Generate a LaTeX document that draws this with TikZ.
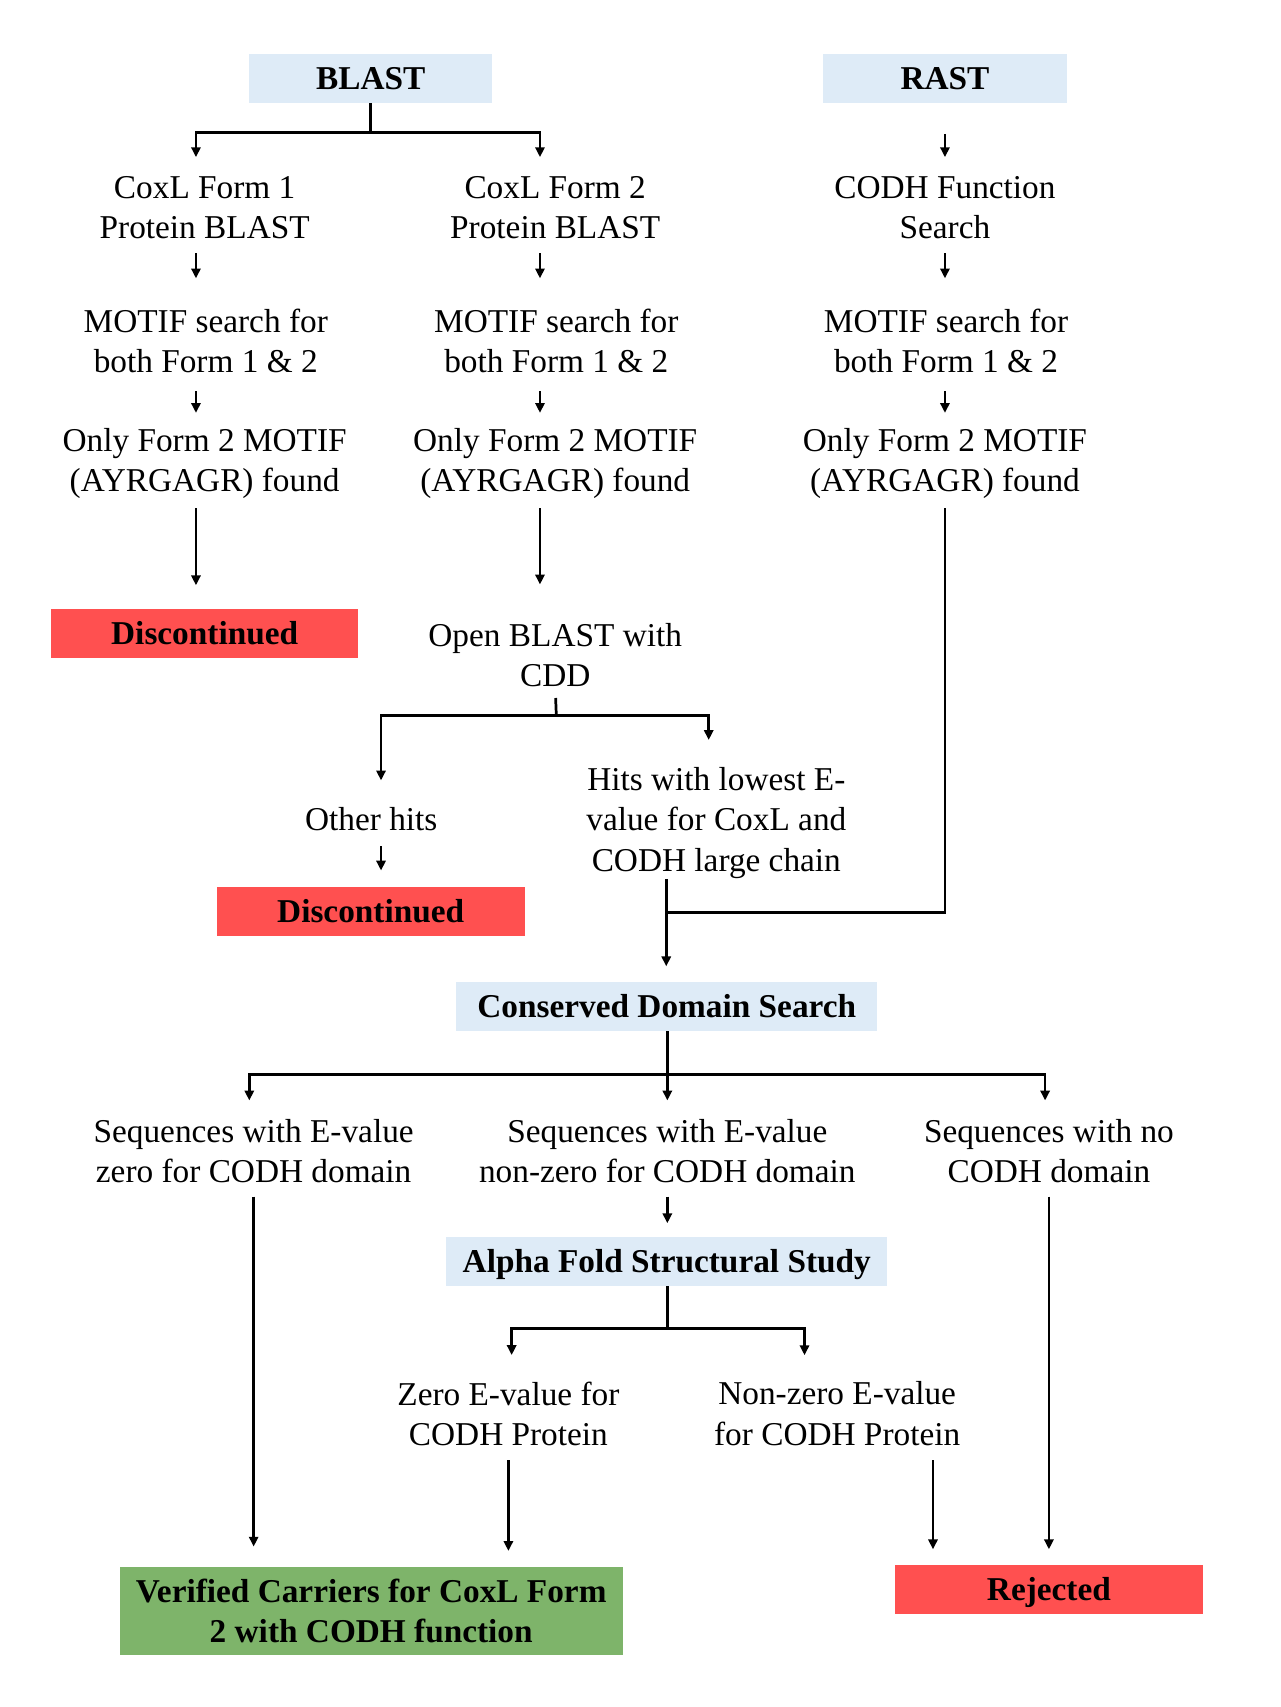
\documentclass[tikz,border=0pt]{standalone}
\usepackage{fontspec}
\setmainfont{Liberation Serif}
\usepackage{tikz}
\usetikzlibrary{arrows.meta}

\definecolor{hdrblue}{HTML}{DEEBF7}
\definecolor{stopred}{HTML}{FF5050}
\definecolor{okgreen}{HTML}{7EB46A}

\begin{document}
\begin{tikzpicture}[x=0.5pt,y=-0.5pt,
		txt/.style={inner sep=0pt,align=center,font=\fontsize{15.3}{18.5}\selectfont},
		box/.style={inner sep=0pt,align=center,minimum height=22.5pt,font=\fontsize{15.3}{18.5}\selectfont\bfseries},
		onebox/.style={box,text height=10.1pt,text depth=0pt},
		ln/.style={line width=1.25pt},
		arr/.style={line width=1.25pt,-{Triangle[length=4.5pt,width=4.2pt]}}]
		
		\useasboundingbox (0,0) rectangle (1176,1568);
		
		% arrow columns and branch points
		\coordinate (c1) at (180,0);
		\coordinate (c2) at (496,0);
		\coordinate (c3) at (868,0);
		\coordinate (c4) at (857,0);
		\coordinate (bj) at (340.5,122);
		\coordinate (oj) at (511,657);
		\coordinate (jn) at (612,838);
		\coordinate (cj) at (613,987);
		\coordinate (aj) at (613,1220);
		
		% top: BLAST and RAST
		\node[onebox,fill=hdrblue,minimum width=111.5pt] (blast) at (340.5,72) {BLAST};
		\node[onebox,fill=hdrblue,minimum width=112pt] (rast) at (868,72) {RAST};
		
		\node[txt] (p1) at (188,190.5) {CoxL Form 1\\Protein BLAST};
		\node[txt] (p2) at (510,190.5) {CoxL Form 2\\Protein BLAST};
		\node[txt] (r1) at (868,190.5) {CODH Function\\Search};
		
		\node[txt] (m1) at (189,313.5) {MOTIF search for\\both Form 1 \& 2};
		\node[txt] (m2) at (511,313.5) {MOTIF search for\\both Form 1 \& 2};
		\node[txt] (m3) at (869,313.5) {MOTIF search for\\both Form 1 \& 2};
		
		\node[txt] (f1) at (188,426) {Only Form 2 MOTIF\\(AYRGAGR) found};
		\node[txt] (f2) at (510,426) {Only Form 2 MOTIF\\(AYRGAGR) found};
		\node[txt] (f3) at (868,426) {Only Form 2 MOTIF\\(AYRGAGR) found};
		
		% middle: CDD hits
		\node[onebox,fill=stopred,minimum width=141pt] (d1) at (188,581.5) {Discontinued};
		\node[txt] (ob) at (510,601.5) {Open BLAST with\\CDD};
		\node[txt] (oh) at (341,752) {Other hits};
		\node[txt] (hl) at (658,756) {Hits with lowest E-\\value for CoxL and\\CODH large chain};
		\node[onebox,fill=stopred,minimum width=141.5pt] (d2) at (340.5,837.5) {Discontinued};
		
		% lower: domain search and structure
		\node[onebox,fill=hdrblue,minimum width=193.5pt] (cds) at (612.5,924.5) {Conserved Domain Search};
		\node[txt] (s1) at (233,1057.5) {Sequences with E-value\\zero for CODH domain};
		\node[txt] (s2) at (613,1057.5) {Sequences with E-value\\non-zero for CODH domain};
		\node[txt] (s3) at (963.5,1057.5) {Sequences with no\\CODH domain};
		\node[onebox,fill=hdrblue,minimum width=202.5pt] (af) at (612.5,1158.5) {Alpha Fold Structural Study};
		\node[txt] (z1) at (467,1298.5) {Zero E-value for\\CODH Protein};
		\node[txt] (z2) at (769,1298.5) {Non-zero E-value\\for CODH Protein};
		\node[box,fill=okgreen,minimum width=231pt,minimum height=40.5pt] (vc) at (341,1479.5) {Verified Carriers for CoxL Form\\2 with CODH function};
		\node[onebox,fill=stopred,minimum width=141.5pt] (rj) at (963.5,1460) {Rejected};
		
		% connectors, top part
		\draw[ln] (blast.south) -- (bj);
		\draw[arr,shorten >=8.5pt] (bj) -| (p1.north -| c1);
		\draw[arr,shorten >=8.5pt] (bj) -| (p2.north -| c2);
		\draw[arr,shorten <=14pt,shorten >=8.5pt] (rast.south) -- (r1.north);
		\foreach \a/\b/\c in {p1/m1/c1,p2/m2/c2,r1/m3/c3}
			\draw[arr,shorten <=6.5pt,shorten >=14pt] (\a.south -| \c) -- (\b.north -| \c);
		\foreach \a/\b/\c in {m1/f1/c1,m2/f2/c2,m3/f3/c3}
			\draw[arr,shorten <=8pt,shorten >=7pt] (\a.south -| \c) -- (\b.north -| \c);
		\draw[arr,shorten <=4pt,shorten >=10.5pt] (f1.south -| c1) -- (d1.north -| c1);
		\draw[arr,shorten <=4pt,shorten >=17.5pt] (f2.south -| c2) -- (ob.north -| c2);
		
		% connectors, CDD hits
		\draw[ln,shorten <=5pt] (ob.south) -- (oj);
		\draw[arr,shorten >=12pt] (oj) -| ([xshift=4.5pt]oh.north);
		\draw[arr,shorten >=12.5pt] (oj) -| ([xshift=-3.5pt]hl.north);
		\draw[arr,shorten <=7pt,shorten >=7.5pt] ([xshift=4.5pt]oh.south) -- ([xshift=4.5pt]oh.south |- d2.north);
		\draw[ln,shorten <=4pt] (f3.south -| c3) |- (jn);
		\draw[arr,shorten >=7pt] (hl.south -| jn) -- (cds.north -| jn);
		
		% connectors, domain search
		\draw[ln] (cds.south -| cj) -- (cj);
		\draw[arr,shorten >=8.5pt] (cj) -| ([xshift=-2pt]s1.north);
		\draw[arr,shorten >=8.5pt] (cj) -- (s2.north -| cj);
		\draw[arr,shorten >=8.5pt] (cj) -| ([xshift=-1.75pt]s3.north);
		\draw[arr,shorten <=6pt,shorten >=9pt] (s1.south) -- (s1.south |- vc.north);
		\draw[arr,shorten <=6pt,shorten >=6pt] (s2.south -| cj) -- (af.north -| cj);
		\draw[arr,shorten <=6pt,shorten >=7pt] (s3.south) -- (s3.south |- rj.north);
		
		% connectors, structural study
		\draw[ln] (af.south -| aj) -- (aj);
		\draw[arr,shorten >=12pt] (aj) -| ([xshift=1.5pt]z1.north);
		\draw[arr,shorten >=12pt] (aj) -| ([xshift=-15pt]z2.north);
		\draw[arr,shorten <=6.5pt,shorten >=7pt] (z1.south) -- (z1.south |- vc.north);
		\draw[arr,shorten <=6.5pt,shorten >=7pt] (z2.south -| c4) -- (rj.north -| c4);
		
	\end{tikzpicture}
\end{document}
